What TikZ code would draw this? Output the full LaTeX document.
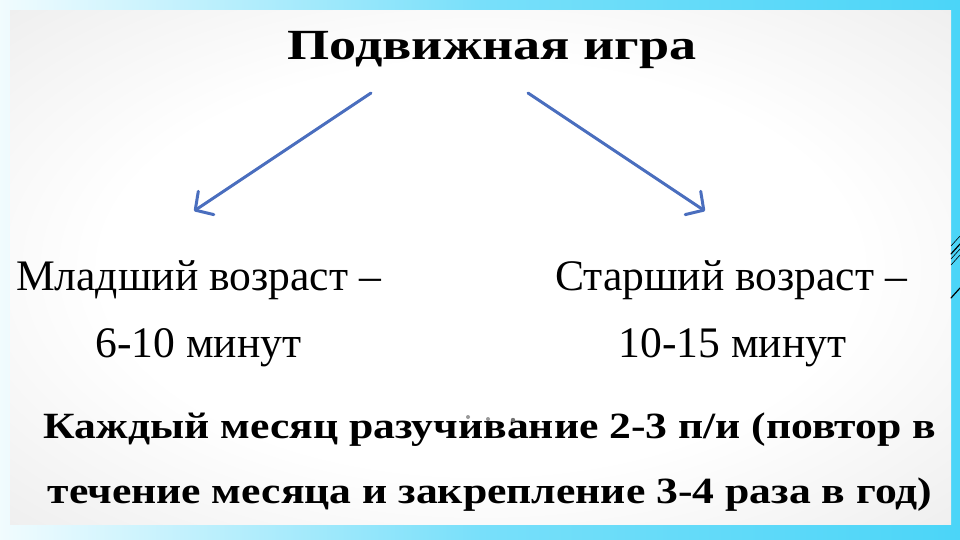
\documentclass[tikz,border=0pt]{standalone}
\usepackage{fontspec}
\setmainfont{Liberation Serif}
\usetikzlibrary{arrows.meta}
\definecolor{cyanb}{RGB}{75,213,248}
\definecolor{arrowblue}{RGB}{74,110,190}
\definecolor{panelgray}{RGB}{212,212,212}
\pgfdeclareradialshading{panelshade}{\pgfpoint{0bp}{0bp}}{%
  color(0bp)=(white); color(20bp)=(white); color(45bp)=(white!40!panelgray);
  color(71bp)=(panelgray)}
\begin{document}
\begin{tikzpicture}[x=1pt,y=-1pt,
  titlefont/.style={font=\fontsize{43}{48}\selectfont\bfseries,xscale=1.26},
  agefont/.style={font=\fontsize{43.6}{48}\selectfont},
  notefont/.style={font=\fontsize{37}{40}\selectfont\bfseries,xscale=1.18},
  txt/.style={anchor=base,inner sep=0pt,text=black},
  conn/.style={draw=arrowblue,line width=3pt,line cap=round,
    -{Straight Barb[length=13pt,width=28pt,line width=3pt,round]}}]
\useasboundingbox (0,0) rectangle (960,540);
% outer frame
\shade[left color=white!93!cyanb,right color=cyanb] (0,0) rectangle (960,540);
\shade[shading angle=135,left color=white!92!cyanb,right color=cyanb,middle color=cyanb!75]
  (0,0) rectangle (960,540);
% panel
\shade[shading=panelshade] (10,11) rectangle (951,524);
% right-edge decoration
\begin{scope}[black,line cap=round]
  \draw[line width=0.6pt] (951,246) -- (960,236);
  \draw[line width=1.2pt] (951,254) -- (960,244);
  \draw[line width=0.6pt] (951,259) -- (960,249);
  \draw[line width=0.6pt] (951,265) -- (960,255);
  \draw[line width=1.2pt] (951,298) -- (960,288);
\end{scope}
% texts
\node[txt,titlefont] (title) at (492,60) {Подвижная игра};
\node[txt,agefont] (young1) at (198.5,290) {Младший возраст –};
\node[txt,agefont] (young2) at (198.5,357) {6-10 минут};
\node[txt,agefont] (old1) at (731,290) {Старший возраст –};
\node[txt,agefont] (old2) at (732.5,357) {10-15 минут};
\node[txt,notefont] (note1) at (490,438) {Каждый месяц разучивание 2-3 п/и (повтор в};
\node[txt,notefont] (note2) at (490,503) {течение месяца и закрепление 3-4 раза в год)};
% small dots
\fill[gray!80] (468,417) circle (2pt);
\fill[gray!80] (488,419) circle (2pt);
\fill[gray!90!black] (513,420) circle (2.2pt);
% connectors
\coordinate (ls) at (371,93);
\coordinate (le) at (194,211);
\coordinate (rs) at (528,93);
\coordinate (re) at (705,211);
\draw[conn] (ls) -- (le);
\draw[conn] (rs) -- (re);
\end{tikzpicture}
\end{document}
